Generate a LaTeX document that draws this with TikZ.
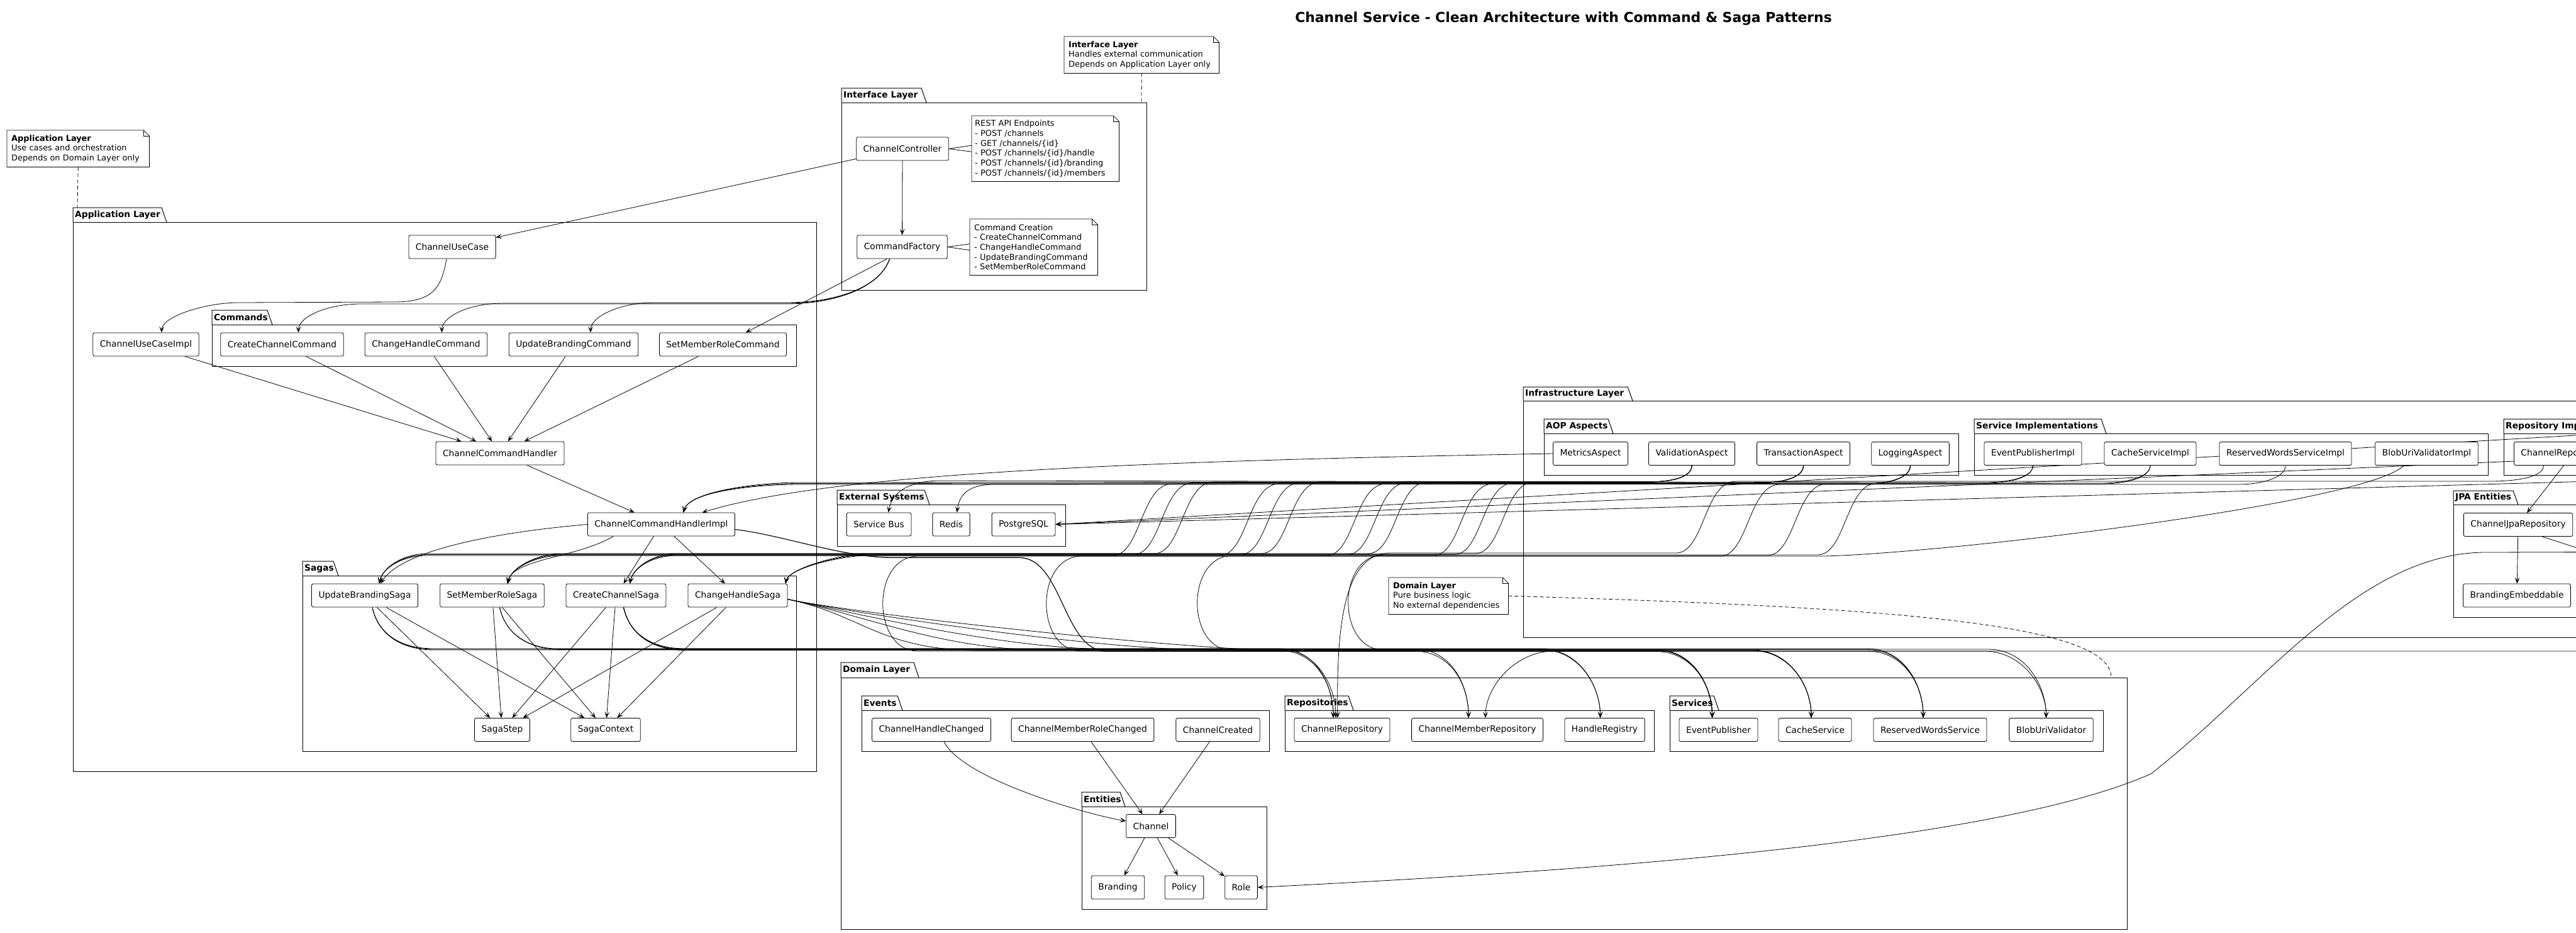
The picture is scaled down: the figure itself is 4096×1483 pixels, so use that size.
\documentclass[tikz,border=0pt]{standalone}
\usepackage{fontspec}
\setmainfont{DejaVu Sans}
\usetikzlibrary{arrows.meta}

\pgfdeclarelayer{back}
\pgfdeclarelayer{wires}
\pgfsetlayers{back,wires,main}

% package frame: x0, tab top, tab right, body top, x1, bottom, title
\newcommand{\umlpkg}[7]{%
  \draw[pkg] (#1,#4) -- (#1,#2) -- ({#3-8},#2) -- (#3,#4);
  \draw[pkg] (#1,#4) rectangle (#5,#6);
  \node[pkgtitle] at ({#1+1},{(#2+#4)/2}) {#7};
}

\begin{document}
\begin{tikzpicture}[x=1pt, y=-1pt,
  cls/.style={draw, fill=white, rounded corners=2.5pt, minimum height=37pt, inner xsep=11pt, inner ysep=0pt, line width=0.8pt, font=\fontsize{13.8}{16}\selectfont},
  note/.style={fill=white, align=left, anchor=north west, inner xsep=7pt, inner ysep=0pt, font=\fontsize{12.9}{15.7}\selectfont},
  dep/.style={-{Stealth[length=10pt,width=8pt,inset=5pt]}, line width=0.8pt},
  link/.style={line width=0.8pt, dash pattern=on 6pt off 4pt},
  pkg/.style={line width=1pt},
  pkgtitle/.style={anchor=west, inner sep=2pt, font=\bfseries\fontsize{13.8}{16}\selectfont}]

\useasboundingbox (0,0) rectangle (4096,1483);

\begin{pgfonlayer}{back}
  \fill[white] (0,0) rectangle (4096,1483);
  \umlpkg{1338}{140}{1473}{163}{1823}{461}{Interface Layer}
  \umlpkg{116}{330}{265}{353}{1298}{1226}{Application Layer}
  \umlpkg{337}{493}{433}{516}{1266}{582}{Commands}
  \umlpkg{481}{892}{538}{915}{1266}{1194}{Sagas}
  \umlpkg{1331}{779}{1478}{802}{1694}{868}{External Systems}
  \umlpkg{2422}{615}{2596}{637}{4400}{1013}{Infrastructure Layer}
  \umlpkg{2455}{666}{2565}{689}{3114}{755}{AOP Aspects}
  \umlpkg{3139}{666}{3349}{689}{3956}{755}{Service Implementations}
  \umlpkg{3981}{666}{4229}{689}{4400}{755}{Repository Implementations}
  \umlpkg{3901}{780}{4004}{802}{4400}{981}{JPA Entities}
  \umlpkg{1337}{1053}{1461}{1077}{3382}{1477}{Domain Layer}
  \umlpkg{1370}{1106}{1435}{1129}{2018}{1194}{Events}
  \umlpkg{2043}{1106}{2152}{1129}{2630}{1194}{Repositories}
  \umlpkg{2655}{1106}{2733}{1129}{3344}{1194}{Services}
  \umlpkg{1720}{1259}{1789}{1282}{2014}{1445}{Entities}
\end{pgfonlayer}

\node[font=\bfseries\fontsize{21.9}{25}\selectfont] (title) at (2486,30) {Channel Service - Clean Architecture with Command \& Saga Patterns};

% interface layer
\node[cls] (ctrl) at (1435,236.5) {ChannelController};
\node[cls] (factory) at (1434.5,392.5) {CommandFactory};

% application layer
\node[cls] (ucase) at (719,392.5) {ChannelUseCase};
\node[cls] (ucimpl) at (232,547.5) {ChannelUseCaseImpl};
\node[cls] (cCreate) at (448.5,547.5) {CreateChannelCommand};
\node[cls] (cHandle) at (677.5,547.5) {ChangeHandleCommand};
\node[cls] (cBrand) at (912,547.5) {UpdateBrandingCommand};
\node[cls] (cRole) at (1149.5,547.5) {SetMemberRoleCommand};
\node[cls] (handler) at (795,720.5) {ChannelCommandHandler};
\node[cls] (himpl) at (1051.5,833.5) {ChannelCommandHandlerImpl};
\node[cls] (sBrand) at (580,946.5) {UpdateBrandingSaga};
\node[cls] (sRole) at (782.5,946.5) {SetMemberRoleSaga};
\node[cls] (sCreate) at (979.5,946.5) {CreateChannelSaga};
\node[cls] (sHandle) at (1173,946.5) {ChangeHandleSaga};
\node[cls] (step) at (798.5,1160) {SagaStep};
\node[cls] (ctx) at (963,1160) {SagaContext};

% external systems
\node[cls] (bus) at (1397.5,833.5) {Service Bus};
\node[cls] (redis) at (1512.5,833.5) {Redis};
\node[cls] (pg) at (1627.5,833.5) {PostgreSQL};

% infrastructure layer
\node[cls] (aMet) at (2529,721) {MetricsAspect};
\node[cls] (aVal) at (2690,721) {ValidationAspect};
\node[cls] (aTx) at (2867.5,721) {TransactionAspect};
\node[cls] (aLog) at (3037.5,721) {LoggingAspect};
\node[cls] (iEvt) at (3232.5,721) {EventPublisherImpl};
\node[cls] (iCache) at (3419,721) {CacheServiceImpl};
\node[cls] (iWords) at (3634,721) {ReservedWordsServiceImpl};
\node[cls] (iBlob) at (3858.5,721) {BlobUriValidatorImpl};
\node[cls, anchor=west] (iRepo) at (3997,721) {ChannelRepositoryImpl};
\node[cls] (jpaRepo) at (4004,834) {ChannelJpaRepository};
\node[cls] (brandEmb) at (4002,946.5) {BrandingEmbeddable};

% domain layer
\node[cls] (eHandle) at (1481,1160) {ChannelHandleChanged};
\node[cls] (eRole) at (1721.5,1160) {ChannelMemberRoleChanged};
\node[cls] (eCreated) at (1936.5,1160) {ChannelCreated};
\node[cls] (rChan) at (2134,1160) {ChannelRepository};
\node[cls] (rMember) at (2349,1160) {ChannelMemberRepository};
\node[cls] (rHandle) at (2551.5,1160) {HandleRegistry};
\node[cls] (svEvt) at (2732.5,1160) {EventPublisher};
\node[cls] (svCache) at (2886,1160) {CacheService};
\node[cls] (svWords) at (3069,1160) {ReservedWordsService};
\node[cls] (svBlob) at (3261.5,1160) {BlobUriValidator};
\node[cls] (channel) at (1830,1313) {Channel};
\node[cls] (branding) at (1777.5,1410.5) {Branding};
\node[cls] (policy) at (1883,1410.5) {Policy};
\node[cls] (role) at (1973.5,1410.5) {Role};

% notes
\node[note, text width=212pt, minimum height=58pt] (appNote) at (11,207) {\textbf{Application Layer}\\Use cases and orchestration\\Depends on Domain Layer only};
\node[note, text width=232pt, minimum height=58pt] (ifaceNote) at (1692,58) {\textbf{Interface Layer}\\Handles external communication\\Depends on Application Layer only};
\node[note, inner xsep=5pt, text width=224pt, minimum height=104pt] (restNote) at (1545,184) {REST API Endpoints\\- POST /channels\\- GET /channels/\{id\}\\- POST /channels/\{id\}/handle\\- POST /channels/\{id\}/branding\\- POST /channels/\{id\}/members};
\node[note, text width=189pt, minimum height=89pt] (cmdNote) at (1542,348) {Command Creation\\- CreateChannelCommand\\- ChangeHandleCommand\\- UpdateBrandingCommand\\- SetMemberRoleCommand};
\node[note, text width=176pt, minimum height=58pt] (domNote) at (2208,918) {\textbf{Domain Layer}\\Pure business logic\\No external dependencies};
\foreach \n in {appNote,ifaceNote,restNote,cmdNote,domNote} {
  \draw[line width=0.8pt] (\n.north west) -- ([xshift=-9pt]\n.north east) -- ([yshift=-9pt]\n.north east) -- (\n.south east) -- (\n.south west) -- cycle;
  \draw[line width=0.8pt] ([xshift=-9pt]\n.north east) |- ([yshift=-9pt]\n.north east);
}

\coordinate (appLink) at (123,330);
\coordinate (ifaceLink) at (1815,163);
\coordinate (domLink) at (3357,1077);
\coordinate (roleSrc) at (4300,877);
\coordinate (memberSrc) at (4300,1035);
\coordinate (jpaOut) at (4250,920);
\coordinate (pgSrcA) at (4300,680);
\coordinate (pgSrcB) at (4300,720);
\coordinate (pgSrcC) at (4300,760);

\begin{pgfonlayer}{wires}
  % note links
  \draw[link] (appNote.south) -- (appLink);
  \draw[link] (ifaceNote.south) -- (ifaceLink);
  \draw[link] (domNote.east) .. controls (3000,965) and (3357,990) .. (domLink);
  \draw[line width=0.8pt] (ctrl.east) -- ([yshift=5pt]restNote.west) (ctrl.east) -- ([yshift=-5pt]restNote.west);
  \draw[line width=0.8pt] (factory.east) -- ([yshift=5pt]cmdNote.west) (factory.east) -- ([yshift=-5pt]cmdNote.west);

  % controller and factory
  \draw[dep] (ctrl) -- (ucase);
  \draw[dep] (ctrl) -- (factory);
  \draw[dep] ([xshift=-24pt]factory.south) -- (cRole);
  \foreach \cm/\x/\y/\dx in {cBrand/1040/481/27, cHandle/800/482/25, cCreate/575/483/26}
    \draw[dep] ([xshift=-20pt]factory.south) .. controls +(-15,45) and (1330,\y) .. (1250,\y) -- (\x,\y) .. controls +(-55,0) and +(0,-25) .. ([xshift=\dx pt]\cm.north);
  \draw[dep] ([xshift=-9pt]ucase.south) .. controls +(-8,45) and (690,479) .. (630,480) -- (380,481) .. controls +(-55,0) and +(0,-25) .. ([xshift=25pt]ucimpl.north);

  % command handling
  \foreach \n in {ucimpl,cCreate,cHandle,cBrand,cRole}
    \draw[dep] (\n) -- (handler);
  \draw[dep] (handler) -- (himpl);
  \draw[dep] (himpl.west) .. controls (800,845) and (640,872) .. ([xshift=25pt]sBrand.north);
  \draw[dep] ([xshift=-76pt]himpl.south) .. controls +(-60,35) and +(10,-40) .. ([xshift=24pt]sRole.north);
  \draw[dep] (himpl) -- (sCreate);
  \draw[dep] (himpl) -- (sHandle);
  \foreach \sg in {sBrand,sRole,sCreate,sHandle} {
    \draw[dep] (\sg) -- (step);
    \draw[dep] (\sg) -- (ctx);
  }

  % aspects
  \draw[dep] (aMet.west) .. controls (1800,733) and (1320,752) .. ([xshift=65pt]himpl.north);
  \foreach \asp/\x/\off in {aVal/2690/0, aTx/2867.5/1.5, aLog/3037.5/3}
    \draw[dep] (\asp.south) .. controls +(0,20) and +(35,0) .. ({\x-70},{766+\off}) -- (1270,{767+\off}) .. controls +(-60,0) and +(10,-35) .. ([xshift=35pt]himpl.north);
  \foreach \asp/\x/\off in {aVal/2690/0, aTx/2867.5/1.5, aLog/3037.5/3}
    \foreach \sg/\dx/\ex/\kk in {sBrand/23/680/0, sRole/25/893/1, sCreate/22/1077/2, sHandle/76/1380/3} {
      \pgfmathsetmacro\xs{2440-170*\kk-22*\off}
      \draw[dep] (\asp.south) .. controls +(0,20) and +(35,0) .. ({\x-70},{766+\off}) -- (\xs,{766+\off}) .. controls +(-50,0) and +(45,0) .. ({\xs-95},{880+\off}) -- (\ex,{880+\off}) .. controls +(-40,0) and +(5,-25) .. ([xshift=\dx pt]\sg.north);
    }

  % sagas to domain
  \foreach \sg/\sx/\tg/\tx/\dx/\off in {sBrand/580/rChan/2134/-14/0, sBrand/580/svBlob/3261.5/-8/1, sBrand/580/svCache/2886/-6/2, sRole/782.5/rMember/2349/-14/0.5, sRole/782.5/svEvt/2732.5/-10/1.5, sCreate/979.5/rChan/2134/-10/1, sCreate/979.5/rHandle/2551.5/-7/2, sCreate/979.5/svWords/3069/-11/0, sCreate/979.5/svEvt/2732.5/-10/2.5}
    \draw[dep] ([xshift=12pt]\sg.south) .. controls +(10,45) and +(-50,0) .. ({\sx+110},{1031+\off}) -- ({\tx-100},{1031+\off}) .. controls +(60,0) and +(0,-50) .. ([xshift=\dx pt]\tg.north);
  \foreach \tg/\tx/\dx/\xm/\off in {rChan/2134/-14/1560/3, rHandle/2551.5/-7/1760/0.5, svWords/3069/-11/1910/1.5, svCache/2886/-6/2050/3, svEvt/2732.5/-10/1660/2}
    \draw[dep] ([yshift=-6pt]sHandle.east) .. controls +(120,25) and +(-160,0) .. (\xm,{1031+\off}) -- ({\tx-100},{1031+\off}) .. controls +(60,0) and +(0,-50) .. ([xshift=\dx pt]\tg.north);
  \foreach \tg/\tx/\dx/\off in {rMember/2349/-14/4, svEvt/2732.5/-10/4.5}
    \draw[dep] ([yshift=-8pt]himpl.east) .. controls +(80,10) and +(-80,0) .. (1420,{882+\off}) -- (1620,{882+\off}) .. controls +(70,0) and +(-70,0) .. (1760,{1031+\off}) -- ({\tx-100},{1031+\off}) .. controls +(60,0) and +(0,-50) .. ([xshift=\dx pt]\tg.north);

  % implementations to domain
  \foreach \im/\x/\xa/\xb/\tg/\tx/\dx/\off in {iEvt/3232.5/2985/2200/svEvt/2732.5/-10/0, iCache/3419/2905/1960/svCache/2886/-6/1, iWords/3634/2830/1720/svWords/3069/-11/2}
    \draw[dep] (\im.south) .. controls +(0,20) and +(35,0) .. ({\x-75},{768+\off}) -- (\xa,{768+\off}) .. controls +(-50,0) and +(45,0) .. ({\xa-95},{882+\off}) -- (\xb,{882+\off}) .. controls +(-75,0) and +(-75,0) .. (\xb,{1033+\off}) -- ({\tx-100},{1033+\off}) .. controls +(60,0) and +(0,-50) .. ([xshift=\dx pt]\tg.north);
  \draw[dep] ([xshift=-36pt]iBlob.south) .. controls +(-60,60) and +(200,-5) .. (2900,884) -- (1460,884) .. controls +(-75,0) and +(-75,0) .. (1460,1035) -- (3155,1035) .. controls +(60,0) and +(0,-50) .. ([xshift=-8pt]svBlob.north);
  \draw[dep] ([xshift=-44pt]iRepo.south) .. controls +(0,20) and +(35,0) .. (3960,765) -- (2760,765) .. controls +(-50,0) and +(45,0) .. (2665,879) -- (2210,879) .. controls (2135,880) and (2125,1000) .. ([xshift=-7pt]rChan.north);
  \draw[dep] (memberSrc) -- (2470,1035) .. controls +(-60,0) and +(0,-50) .. ([xshift=13pt]rMember.north);

  % implementations to external systems
  \draw[dep] (iEvt.south) .. controls +(0,20) and +(35,0) .. (3155,767) -- (1490,764) .. controls (1440,766) and (1418,785) .. ([xshift=15pt]bus.north);
  \draw[dep] (iCache.south) .. controls +(0,20) and +(35,0) .. (3340,768) -- (1575,770) .. controls (1535,772) and (1525,790) .. ([xshift=9pt]redis.north);
  \foreach \c in {pgSrcA,pgSrcB,pgSrcC}
    \draw[dep] (\c) -- (pg.east);

  % persistence
  \draw[dep] ([xshift=-12pt]iRepo.south) -- ([xshift=14pt]jpaRepo.north);
  \draw[dep] (jpaRepo) -- (brandEmb);
  \draw[dep] ([xshift=38pt]jpaRepo.south) -- (jpaOut);
  \draw[dep] (roleSrc) -- (3950,878) .. controls (3750,880) and (3600,1090) .. (3420,1230) .. controls (3150,1350) and (2400,1390) .. (role.east);

  % entities
  \draw[dep] ([xshift=20pt]eHandle.south) .. controls +(30,60) and +(-60,-10) .. ([yshift=8pt]channel.west);
  \draw[dep] (eRole) -- (channel);
  \draw[dep] (eCreated) -- (channel);
  \foreach \n in {branding,policy,role}
    \draw[dep] (channel) -- (\n);
\end{pgfonlayer}
\end{tikzpicture}
\end{document}
